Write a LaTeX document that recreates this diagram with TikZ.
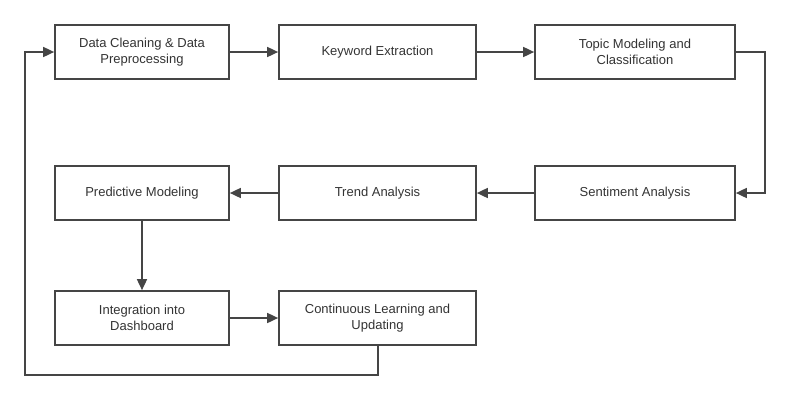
\documentclass[tikz,border=0pt]{standalone}
\usepackage{fontspec}
\setmainfont{Liberation Sans}
\usetikzlibrary{arrows.meta}
\definecolor{linec}{HTML}{454545}
\definecolor{textc}{HTML}{333333}
\begin{document}
\begin{tikzpicture}[x=1pt,y=-1pt,
  box/.style={draw=linec,line width=1.7pt,minimum height=54pt,inner sep=0pt,
    text=textc,align=center,font=\fontsize{13}{15.7}\selectfont},
  narrow/.style={box,minimum width=174pt},
  wide/.style={box,minimum width=197pt},
  wider/.style={box,minimum width=200pt},
  conn/.style={draw=linec,line width=1.7pt,-{Triangle[length=11pt,width=10pt]}},
  plain/.style={draw=linec,line width=1.7pt}]
\useasboundingbox (0,0) rectangle (790,400);
\node[narrow] (b1) at (142,52) {Data Cleaning \& Data\\Preprocessing};
\node[wide] (b2) at (377.5,52) {Keyword Extraction};
\node[wider] (b3) at (635,52) {Topic Modeling and\\Classification};
\node[narrow] (b4) at (142,193) {Predictive Modeling};
\node[wide] (b5) at (377.5,193) {Trend Analysis};
\node[wider] (b6) at (635,193) {Sentiment Analysis};
\node[narrow] (b7) at (142,318) {Integration into\\Dashboard};
\node[wide] (b8) at (377.5,318) {Continuous Learning and\\Updating};
\coordinate (c1) at (765,52);
\coordinate (c2) at (765,193);
\coordinate (c3) at (378,375);
\coordinate (c4) at (25,375);
\coordinate (c5) at (25,52);
\draw[conn] (b1) -- (b2);
\draw[conn] (b2) -- (b3);
\draw[conn] (b3.east) -- (c1) -- (c2) -- (b6.east);
\draw[conn] (b6) -- (b5);
\draw[conn] (b5) -- (b4);
\draw[conn] (b4) -- (b7);
\draw[conn] (b7) -- (b8);
\draw[conn] (b8.south -| c3) -- (c3) -- (c4) -- (c5) -- (b1.west);
\end{tikzpicture}
\end{document}
